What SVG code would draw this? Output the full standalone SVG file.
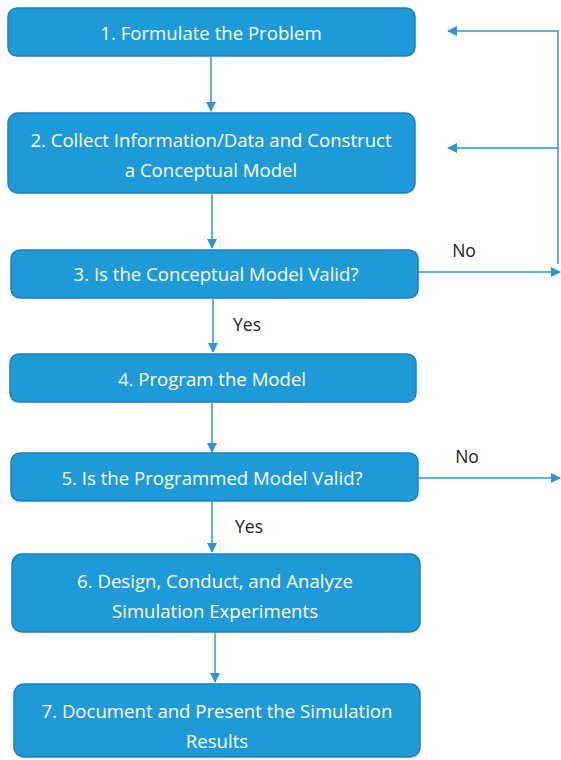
<svg xmlns="http://www.w3.org/2000/svg" width="561" height="760" viewBox="0 0 561 760">
<defs>
<marker id="ah" markerWidth="10" markerHeight="10" refX="9" refY="5" orient="auto" markerUnits="userSpaceOnUse">
<path d="M0,0 L10,5 L0,10 Z" fill="#2a97d4"/>
</marker>
<style>
.box{fill:#1f9ad8;stroke:#1b7fbf;stroke-width:1.5}
.t{font-family:"Open Sans","Noto Sans",sans-serif;font-size:18.6px;fill:#ffffff;text-anchor:middle;dominant-baseline:central}
.lbl{font-family:"Open Sans","Noto Sans",sans-serif;font-size:17.5px;fill:#222222;text-anchor:middle;dominant-baseline:central}
.c{fill:none;stroke:#2a97d4;stroke-width:1.5}
</style>
</defs>
<rect width="561" height="760" fill="#ffffff"/>
<g id="connectors">
<line class="c" x1="211" y1="57" x2="211" y2="111" marker-end="url(#ah)"/>
<line class="c" x1="212" y1="194" x2="212" y2="248" marker-end="url(#ah)"/>
<line class="c" x1="213" y1="299" x2="213" y2="352" marker-end="url(#ah)"/>
<line class="c" x1="212" y1="403" x2="212" y2="452" marker-end="url(#ah)"/>
<line class="c" x1="212" y1="502" x2="212" y2="552" marker-end="url(#ah)"/>
<line class="c" x1="215" y1="633" x2="215" y2="682" marker-end="url(#ah)"/>
<line class="c" x1="418" y1="272" x2="560" y2="272" marker-end="url(#ah)"/>
<line class="c" x1="418" y1="478" x2="560" y2="478" marker-end="url(#ah)"/>
<polyline class="c" points="558,264 558,31 448,31" marker-end="url(#ah)"/>
<line class="c" x1="558" y1="148" x2="448" y2="148" marker-end="url(#ah)"/>
<text class="lbl" x="464" y="250">No</text>
<text class="lbl" x="247" y="324">Yes</text>
<text class="lbl" x="467" y="456">No</text>
<text class="lbl" x="249" y="526">Yes</text>
</g>
<g id="n1">
<rect class="box" x="8" y="8" width="407" height="48" rx="9"/>
<text class="t" x="211" y="32">1. Formulate the Problem</text>
</g>
<g id="n2">
<rect class="box" x="8" y="113" width="407" height="80" rx="10"/>
<text class="t" x="211" y="139">2. Collect Information/Data and Construct</text>
<text class="t" x="211" y="169">a Conceptual Model</text>
</g>
<g id="n3">
<rect class="box" x="11" y="250" width="407" height="48" rx="9"/>
<text class="t" x="216" y="273">3. Is the Conceptual Model Valid?</text>
</g>
<g id="n4">
<rect class="box" x="10" y="354" width="406" height="48" rx="9"/>
<text class="t" x="212" y="378">4. Program the Model</text>
</g>
<g id="n5">
<rect class="box" x="11" y="453" width="407" height="48" rx="9"/>
<text class="t" x="212" y="477">5. Is the Programmed Model Valid?</text>
</g>
<g id="n6">
<rect class="box" x="12" y="554" width="408" height="78" rx="10"/>
<text class="t" x="215" y="580">6. Design, Conduct, and Analyze</text>
<text class="t" x="215" y="610">Simulation Experiments</text>
</g>
<g id="n7">
<rect class="box" x="14" y="684" width="406" height="73" rx="10"/>
<text class="t" x="217" y="710">7. Document and Present the Simulation</text>
<text class="t" x="217" y="740">Results</text>
</g>
</svg>
